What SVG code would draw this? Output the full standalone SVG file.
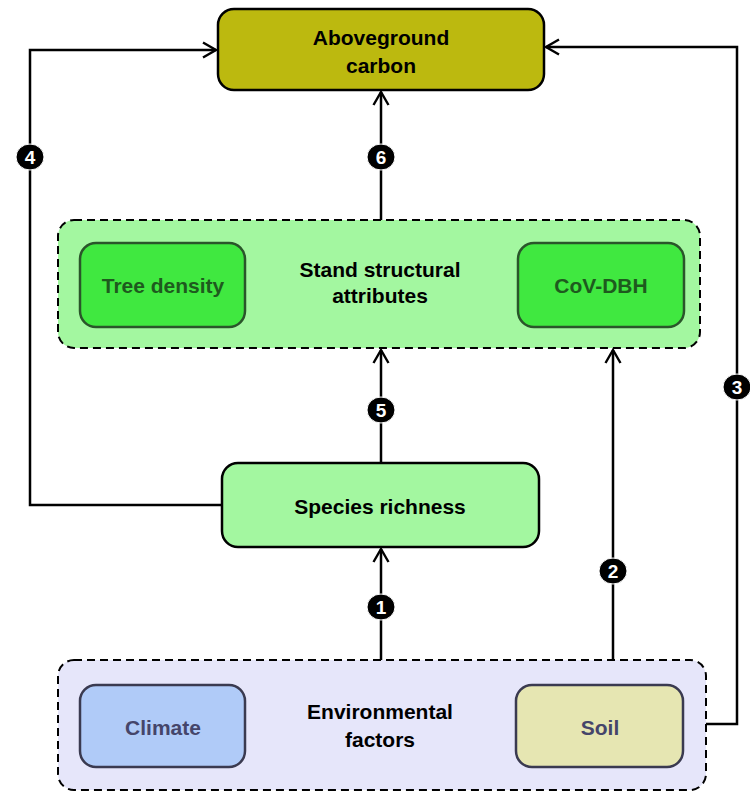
<svg xmlns="http://www.w3.org/2000/svg" width="750" height="792" viewBox="0 0 750 792">
<defs>
<marker id="arr" viewBox="-15 -9 17 18" refX="0" refY="0" markerWidth="17" markerHeight="18" markerUnits="userSpaceOnUse" orient="auto">
<path d="M-13,-7.5 L0,0 L-13,7.5" fill="none" stroke="#000" stroke-width="2.4"/>
</marker>
<style>
text{font-family:"Liberation Sans",Arial,sans-serif;font-weight:bold;text-anchor:middle}
.t{font-size:21px;fill:#000}
.g{font-size:21px;fill:#1e5a1e}
.b{font-size:21px;fill:#45456a}
.grp{stroke:#000;stroke-width:2;stroke-dasharray:8 5}
.box{stroke:#000;stroke-width:2.5}
.inG{fill:#40e840;stroke:#2a552a;stroke-width:2.5}
.c{fill:none;stroke:#000;stroke-width:2.5}
.badge{fill:#000;stroke:#fff;stroke-width:1}
.n{font-size:19px;fill:#fff}
</style>
</defs>
<rect width="750" height="792" fill="#fff"/>
<g id="connectors">
<path class="c" d="M381,660 L381,549" marker-end="url(#arr)"/>
<path class="c" d="M613,660 L613,350" marker-end="url(#arr)"/>
<path class="c" d="M706,724 L737,724 L737,47 L546,47" marker-end="url(#arr)"/>
<path class="c" d="M222,505 L30,505 L30,50 L216,50" marker-end="url(#arr)"/>
<path class="c" d="M381,463 L381,350" marker-end="url(#arr)"/>
<path class="c" d="M381,220 L381,92" marker-end="url(#arr)"/>
<ellipse class="badge" cx="381" cy="607" rx="14" ry="13"/><text class="n" x="381" y="614">1</text>
<ellipse class="badge" cx="613" cy="571" rx="14" ry="13"/><text class="n" x="613" y="578">2</text>
<ellipse class="badge" cx="737" cy="387" rx="14" ry="13"/><text class="n" x="737" y="394">3</text>
<ellipse class="badge" cx="30" cy="157" rx="14" ry="13"/><text class="n" x="30" y="164">4</text>
<ellipse class="badge" cx="381" cy="410" rx="14" ry="13"/><text class="n" x="381" y="417">5</text>
<ellipse class="badge" cx="381" cy="157" rx="14" ry="13"/><text class="n" x="381" y="164">6</text>
</g>
<g id="aboveground">
<rect class="box" x="218" y="9" width="326" height="81" rx="16" fill="#bcb90f"/>
<text class="t" x="381" y="45">Aboveground</text>
<text class="t" x="381" y="73">carbon</text>
</g>
<g id="stand">
<rect class="grp" x="58" y="220" width="642" height="128" rx="16" fill="#a3f7a0"/>
<text class="t" x="380" y="277">Stand structural</text>
<text class="t" x="380" y="303">attributes</text>
</g>
<g id="treedensity">
<rect class="inG" x="80" y="243" width="165" height="84" rx="16"/>
<text class="g" x="163" y="293">Tree density</text>
</g>
<g id="covdbh">
<rect class="inG" x="518" y="243" width="166" height="84" rx="16"/>
<text class="g" x="601" y="293">CoV-DBH</text>
</g>
<g id="species">
<rect class="box" x="222" y="463" width="317" height="84" rx="16" fill="#a3f7a0"/>
<text class="t" x="380" y="514">Species richness</text>
</g>
<g id="environment">
<rect class="grp" x="58" y="660" width="648" height="130" rx="16" fill="#e6e6fa"/>
<text class="t" x="380" y="719">Environmental</text>
<text class="t" x="380" y="747">factors</text>
</g>
<g id="climate">
<rect x="80" y="685" width="165" height="82" rx="16" fill="#b0cbf8" stroke="#3a3a50" stroke-width="2.5"/>
<text class="b" x="163" y="735">Climate</text>
</g>
<g id="soil">
<rect x="516" y="685" width="167" height="82" rx="16" fill="#e6e6b2" stroke="#3a3a50" stroke-width="2.5"/>
<text class="b" x="600" y="735">Soil</text>
</g>
</svg>
